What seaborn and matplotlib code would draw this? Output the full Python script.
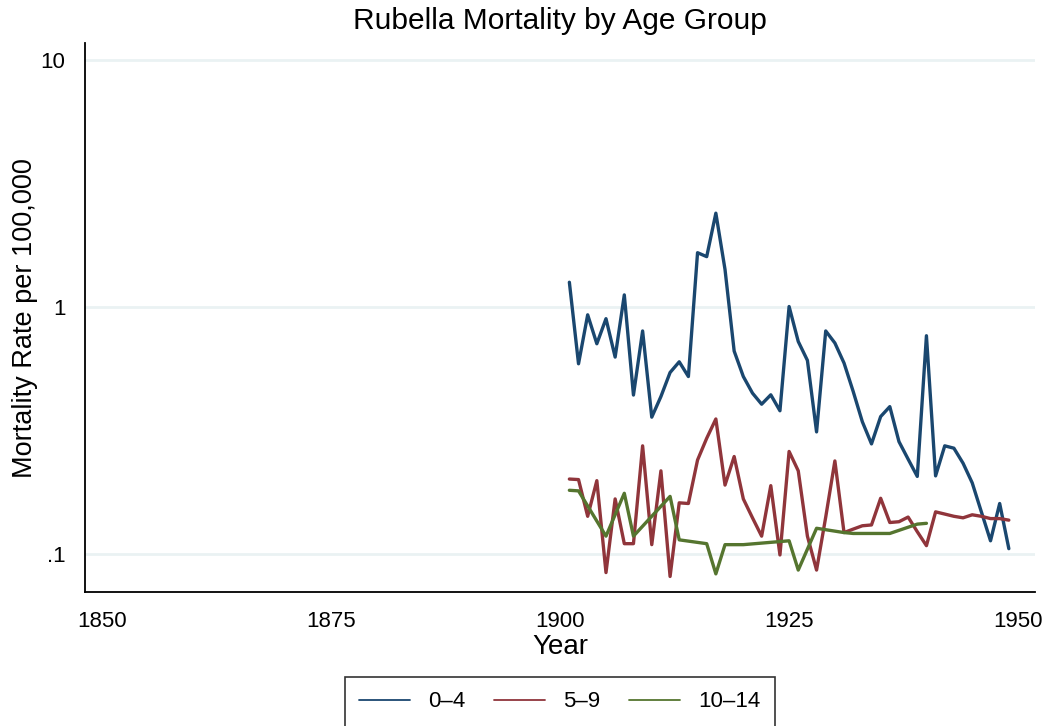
import numpy as np
import pandas as pd
import matplotlib
matplotlib.use("Agg")
import matplotlib.pyplot as plt
import seaborn as sns
from matplotlib.lines import Line2D
from matplotlib.ticker import FixedLocator, FixedFormatter, NullLocator

# ---- data ----
groups = ["0\u20134", "5\u20139", "10\u201314"]

years_0_4 = list(range(1901, 1950))
rate_0_4 = [1.26, 0.589, 0.93, 0.71, 0.897, 0.627, 1.12, 0.44, 0.80, 0.358,
            0.434, 0.543, 0.600, 0.523, 1.66, 1.60, 2.40, 1.42, 0.663, 0.523,
            0.448, 0.404, 0.441, 0.380, 1.005, 0.725, 0.608, 0.312, 0.80, 0.715,
            0.593, 0.455, 0.343, 0.279, 0.360, 0.395, 0.285, 0.242, 0.206, 0.765,
            0.207, 0.274, 0.268, 0.233, 0.194, 0.148, 0.113, 0.160, 0.105]

years_5_9 = list(range(1901, 1950))
rate_5_9 = [0.201, 0.200, 0.142, 0.198, 0.084, 0.167, 0.110, 0.110, 0.274, 0.109,
            0.217, 0.081, 0.161, 0.160, 0.240, 0.294, 0.352, 0.190, 0.248, 0.167,
            0.140, 0.118, 0.189, 0.099, 0.260, 0.217, 0.118, 0.086, 0.141, 0.238,
            0.122, 0.126, 0.130, 0.131, 0.168, 0.134, 0.135, 0.141, 0.123, 0.108,
            0.148, 0.145, 0.142, 0.140, 0.144, 0.142, 0.139, 0.139, 0.137]

years_10_14 = [1901, 1902, 1905, 1907, 1908, 1912, 1913, 1916, 1917, 1918,
               1920, 1925, 1926, 1928, 1931, 1932, 1936, 1939, 1940]
rate_10_14 = [0.181, 0.180, 0.118, 0.176, 0.118, 0.171, 0.114, 0.110, 0.083, 0.109,
              0.109, 0.113, 0.086, 0.127, 0.122, 0.121, 0.121, 0.132, 0.133]

x_ticks = [1850, 1875, 1900, 1925, 1950]
y_ticks = [0.1, 1, 10]
y_tick_labels = [".1", "1", "10"]

colors = ["#1a476f", "#90353b", "#55752f"]

df = pd.concat([
    pd.DataFrame({"year": years_0_4, "rate": rate_0_4, "group": groups[0]}),
    pd.DataFrame({"year": years_5_9, "rate": rate_5_9, "group": groups[1]}),
    pd.DataFrame({"year": years_10_14, "rate": rate_10_14, "group": groups[2]}),
], ignore_index=True)

# ---- style ----
sns.set_style("white")
plt.rcParams["font.family"] = ["Liberation Sans", "DejaVu Sans"]
plt.rcParams["text.color"] = "black"
plt.rcParams["axes.labelcolor"] = "black"

fig = plt.figure(figsize=(10.46, 7.26), dpi=100)
ax = fig.add_axes([0.0813, 0.1846, 0.9082, 0.7557])

sns.lineplot(data=df, x="year", y="rate", hue="group", hue_order=groups,
             palette=colors, estimator=None, sort=True, linewidth=2.4,
             legend=False, ax=ax)

ax.set_yscale("log")
ax.set_xlim(1848.1, 1951.86)
ax.set_ylim(0.0701, 11.7)

ax.xaxis.set_major_locator(FixedLocator(x_ticks))
ax.yaxis.set_major_locator(FixedLocator(y_ticks))
ax.yaxis.set_major_formatter(FixedFormatter(y_tick_labels))
ax.yaxis.set_minor_locator(NullLocator())
ax.xaxis.set_minor_locator(NullLocator())

ax.yaxis.grid(True, color="#eaf2f3", linewidth=2)
ax.xaxis.grid(False)
ax.set_axisbelow(True)

for s in ["top", "right"]:
    ax.spines[s].set_visible(False)
for s in ["left", "bottom"]:
    ax.spines[s].set_color("black")
    ax.spines[s].set_linewidth(1.3)

ax.tick_params(axis="both", direction="out", length=8, width=1.3,
               color="black", labelsize=16, labelcolor="black", pad=6)

ax.set_xlabel("Year", fontsize=20, labelpad=1, color="black")
ax.set_ylabel("Mortality Rate per 100,000", fontsize=19.5, color="black")
ax.yaxis.set_label_coords(-0.0495, 0.5)
ax.set_title("Rubella Mortality by Age Group", fontsize=21.5, pad=10, color="black")

handles = [Line2D([0], [0], color=c, lw=1.3) for c in colors]
leg = fig.legend(handles, groups, loc="upper center", bbox_to_anchor=(0.535, 0.0675),
                 ncol=3, frameon=True, fancybox=False, fontsize=16,
                 handlelength=2.3, handletextpad=0.8, columnspacing=1.3,
                 borderpad=0.65, borderaxespad=0)
leg.get_frame().set_edgecolor("black")
leg.get_frame().set_linewidth(1.2)
for t in leg.get_texts():
    t.set_color("black")

fig.savefig("out.png", dpi=100)
